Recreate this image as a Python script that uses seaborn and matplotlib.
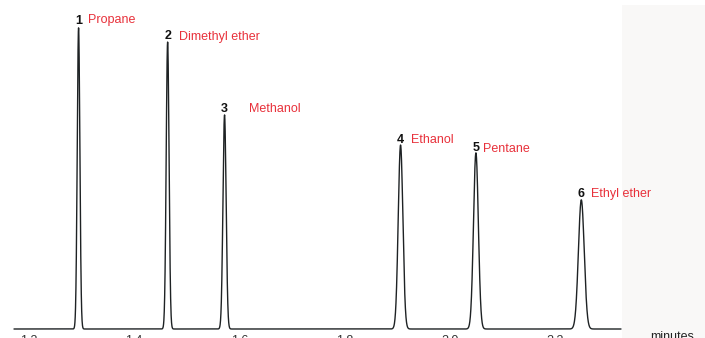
import numpy as np
import pandas as pd
import matplotlib
matplotlib.use("Agg")
import matplotlib.pyplot as plt
from matplotlib.patches import Rectangle
import seaborn as sns

# ---- data ----
peak_ids = ["1", "2", "3", "4", "5", "6"]
compounds = ["Propane", "Dimethyl ether", "Methanol", "Ethanol", "Pentane", "Ethyl ether"]
retention_times = [1.295, 1.464, 1.572, 1.906, 2.049, 2.249]   # minutes
peak_heights = [100.0, 95.3, 71.1, 61.1, 58.5, 42.9]           # relative response
peak_sigmas = [0.0025, 0.0027, 0.0030, 0.0044, 0.0046, 0.0055]  # minutes
tick_values = [1.2, 1.4, 1.6, 1.8, 2.0, 2.2]
tick_labels = ["1.2", "1.4", "1.6", "1.8", "2.0", "2.2"]
x_label = "minutes"

# ---- styling ----
name_dx = [6.8, 8.4, 17.3, 7.4, 5.0, 7.2]   # points
name_dy = [5.4, 3.9, 3.9, 3.9, 2.6, 4.2]
num_dy = [4.7, 4.0, 4.0, 3.5, 3.5, 4.0]
RED = "#e8313b"
LINE = "#1e2224"

sns.set_theme(style="white")
plt.rcParams["font.family"] = ["Liberation Sans", "DejaVu Sans"]

# trace built from the read peak parameters
t = np.linspace(1.1725, 2.3243, 6000)
signal = np.zeros_like(t)
for rt, h, s in zip(retention_times, peak_heights, peak_sigmas):
    signal += h * np.exp(-0.5 * ((t - rt) / s) ** 2)
df = pd.DataFrame({"time": t, "signal": signal})

W, H = 705, 338
fig = plt.figure(figsize=(W / 100, H / 100), dpi=100)
fig.patch.set_facecolor("white")
fig.add_artist(Rectangle((622 / W, 0), (W - 622) / W, 333 / H,
                         transform=fig.transFigure, facecolor="#f9f8f7",
                         edgecolor="none", zorder=-5))

ax = fig.add_axes([14 / W, 9 / H, 607 / W, 324 / H])
ax.set_facecolor("none")
sns.lineplot(data=df, x="time", y="signal", ax=ax, color=LINE, linewidth=1.0,
             clip_on=False, estimator=None, sort=False)
ax.set_xlim(1.1725, 2.3243)
ax.set_ylim(0, 107.6)
ax.set_yticks([])
ax.set_xticks(tick_values)
ax.set_xticklabels(tick_labels)
ax.tick_params(axis="x", length=0, pad=4.3, labelsize=9, labelcolor="#333333")
ax.set_xlabel("")
ax.set_ylabel("")
sns.despine(ax=ax, left=True, bottom=True)

for i in range(len(peak_ids)):
    rt, h = retention_times[i], peak_heights[i]
    ax.annotate(peak_ids[i], (rt, h), xytext=(0, num_dy[i]), textcoords="offset points",
                ha="center", va="center", fontsize=9, fontweight="bold",
                color="#111111", annotation_clip=False)
    ax.annotate(compounds[i], (rt, h), xytext=(name_dx[i], name_dy[i]),
                textcoords="offset points", ha="left", va="center",
                fontsize=9, color=RED, annotation_clip=False)

fig.text(672 / W, -1.5 / H, x_label, ha="center", va="baseline",
         fontsize=9, color="#222222")

fig.savefig("out.png", dpi=100)
